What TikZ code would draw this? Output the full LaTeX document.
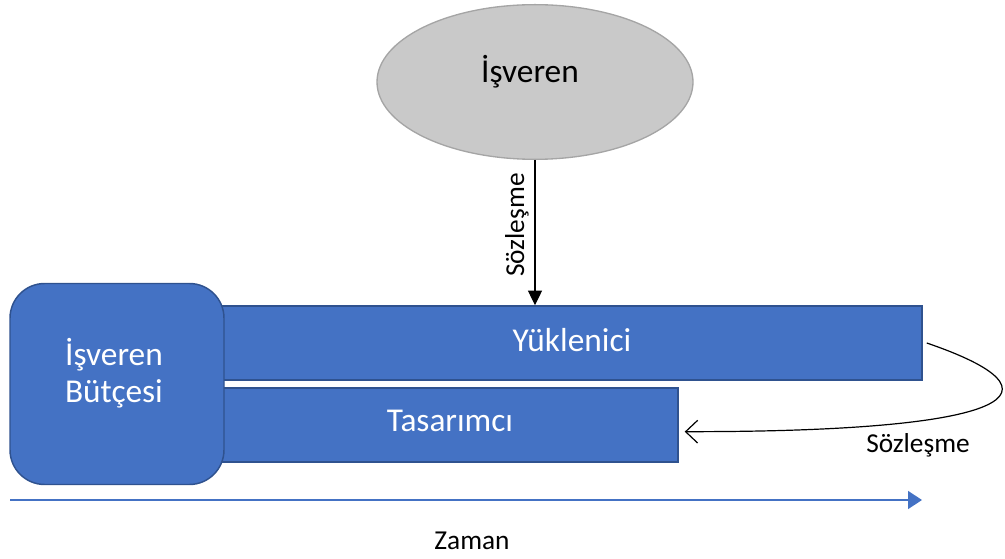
\documentclass[tikz,border=0pt]{standalone}
\usepackage{fontspec}
\setmainfont{Carlito}
\usetikzlibrary{shapes.geometric,arrows.meta}
\definecolor{boxblue}{HTML}{4472C4}
\definecolor{boxedge}{HTML}{2F528F}
\definecolor{ovalfill}{HTML}{C9C9C9}
\definecolor{ovaledge}{HTML}{A5A5A5}
\begin{document}
\begin{tikzpicture}[x=0.75pt,y=-0.75pt,
  bigtext/.style={font=\fontsize{25}{28}\selectfont},
  bar/.style={draw=boxedge, line width=1.1pt, fill=boxblue, text=white, bigtext,
    inner sep=0pt, minimum height=55.5pt},
  lbl/.style={font=\fontsize{20.5}{24}\selectfont, inner sep=0pt},
  link/.style={line width=0.9pt, black}]
\useasboundingbox (0,0) rectangle (1005,559);

% employer oval
\node[ellipse, draw=ovaledge, line width=1pt, fill=ovalfill, minimum width=237pt,
  minimum height=116pt, inner sep=0pt] (emp) at (535,82) {};
\node[bigtext, inner sep=0pt] (empname) at (530,72) {İşveren};

% contractor and designer bars
\node[bar, minimum width=528pt] (yuk) at (570,343) {};
\node[bigtext, text=white, inner sep=0pt] (yukname) at (572,340) {Yüklenici};
\node[bar, minimum width=345pt] (tas) at (448,425) {};
\node[bigtext, text=white, inner sep=0pt] (tasname) at (450,421) {Tasarımcı};

% budget block
\node[draw=boxedge, line width=1.1pt, fill=boxblue,
  rounded corners=26pt, minimum width=160.5pt, minimum height=150.75pt,
  inner sep=0pt] (budget) at (117,384) {};
\node[bigtext, text=white, align=center, inner sep=0pt] (budgetname) at (114,373)
  {İşveren\\Bütçesi};

% contract from employer to contractor
\draw[link, -{Triangle[length=11pt, width=10.5pt]}] (emp.south) -- (emp.south |- yuk.north);
\node[lbl, rotate=90] (c1) at (517,225) {Sözleşme};

% contract from contractor to designer
\draw[link, -{Straight Barb[length=9pt, width=17pt, line width=0.9pt]}]
  ([xshift=3pt]yuk.east) .. controls (1070,392) and (1020,432) .. ([xshift=4.5pt,yshift=-5pt]tas.east);
\node[lbl] (c2) at (918,445) {Sözleşme};

% time axis
\coordinate (t0) at (10,500);
\coordinate (t1) at (922,500);
\draw[boxblue, line width=1pt, -{Triangle[length=10.5pt, width=13.5pt]}] (t0) -- (t1);
\node[lbl] (zaman) at (472,541) {Zaman};
\end{tikzpicture}
\end{document}
